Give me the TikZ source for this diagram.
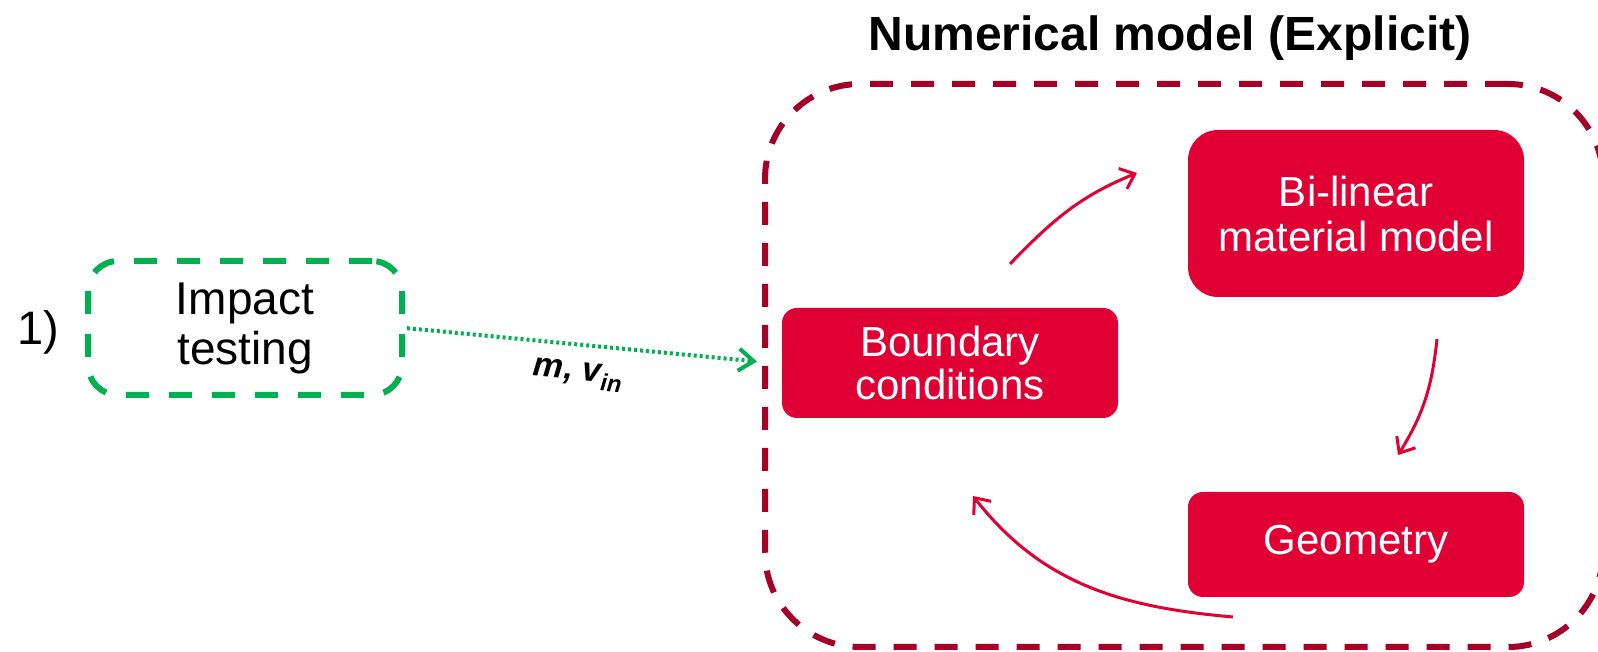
\documentclass[tikz,border=0pt]{standalone}
\usepackage{fontspec}
\setmainfont{Liberation Sans}
\usetikzlibrary{arrows.meta}
\definecolor{boxred}{HTML}{E00034}
\definecolor{framered}{HTML}{A50026}
\definecolor{dgreen}{HTML}{00B050}
\begin{document}
\begin{tikzpicture}[x=1pt,y=1pt,
  redbox/.style={fill=boxred, minimum width=336pt, text=white, align=center, inner sep=0pt},
  cyclearrow/.style={draw=boxred, line width=3pt, -{Straight Barb[length=13pt,width=22pt]}},
  flowarrow/.style={draw=dgreen, line width=4pt, dash pattern=on 3pt off 3pt, -{Straight Barb[length=15pt,width=22pt]}}]
\useasboundingbox (0,0) rectangle (1598,652);
\clip (0,0) rectangle (1598,652);
% frame
\node[draw=framered, line width=6pt, dash pattern=on 23pt off 18pt, rounded corners=95pt,
      minimum width=838pt, minimum height=563pt, inner sep=0pt] (frame) at (1184,286.5) {};
% title
\node[font=\bfseries\fontsize{48}{52}\selectfont, anchor=base, inner sep=0pt] (title) at (1170,601) {Numerical model (Explicit)};
% left part
\node[anchor=base west, font=\fontsize{47}{50}\selectfont, inner sep=0pt] (num) at (17,307) {1)};
\node[draw=dgreen, line width=6pt, dash pattern=on 23pt off 20pt, rounded corners=30pt,
      minimum width=314pt, minimum height=134pt, inner sep=0pt, align=center,
      font=\fontsize{46}{50}\selectfont] (impact) at (245,324) {Impact\\testing};
% red boxes
\node[redbox, rounded corners=15pt, minimum height=110pt, font=\fontsize{42}{43}\selectfont] (bc) at (950,289) {Boundary\\conditions};
\node[redbox, rounded corners=30pt, minimum height=167pt, font=\fontsize{42}{45}\selectfont] (mat) at (1356,438.5) {Bi-linear\\material model};
\node[redbox, rounded corners=15pt, minimum height=105pt, font=\fontsize{42}{45}\selectfont] (geo) at (1356,107.5) {Geometry};
% dotted connector
\draw[flowarrow, shorten <=2pt, shorten >=5pt] (impact.east) -- ([yshift=3.5pt]frame.west);
\node[rotate=-5.4, font=\bfseries\itshape\fontsize{34}{36}\selectfont, inner sep=0pt] (lbl) at (578,277) {m, v\textsubscript{in}};
% cycle arrows
\coordinate (a1s) at (1010,388); \coordinate (a1e) at (1137,479);
\coordinate (a2s) at (1437,313); \coordinate (a2e) at (1398,197);
\coordinate (a3s) at (1233,35);  \coordinate (a3e) at (973,156);
\draw[cyclearrow] (a1s) to[out=46,in=-158] (a1e);
\draw[cyclearrow] (a2s) to[out=-96,in=58] (a2e);
\draw[cyclearrow] (a3s) to[out=175,in=-52] (a3e);
\end{tikzpicture}
\end{document}
